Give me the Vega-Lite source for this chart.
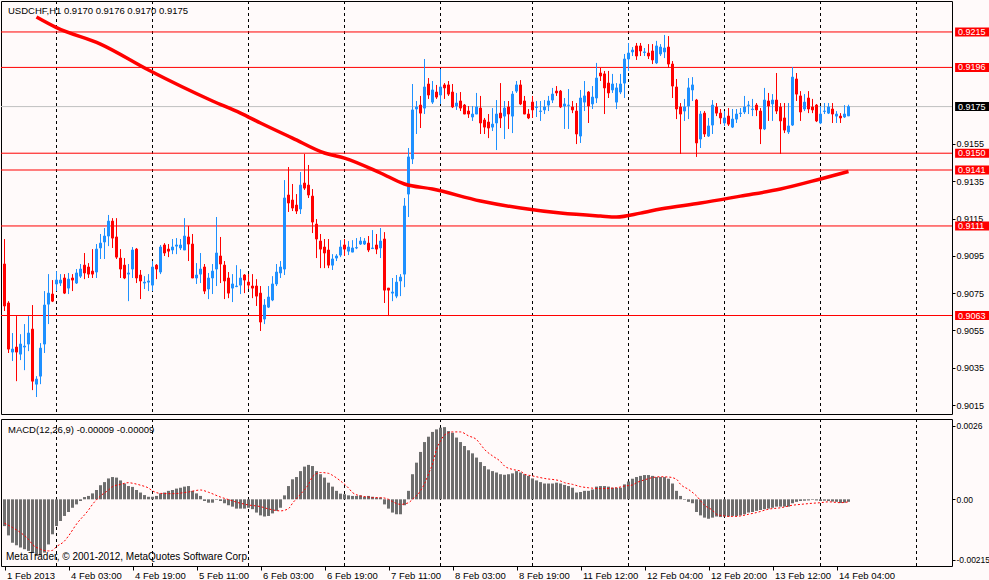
{
  "$schema": "https://vega.github.io/schema/vega-lite/v6.json",
  "background": "#FFFAFA",
  "padding": 0,
  "spacing": 3,
  "resolve": {"scale": {"x": "independent", "y": "independent"}},
  "config": {
    "view": {"stroke": "#000000", "strokeWidth": 1},
    "scale": {"continuousPadding": 0},
    "font": "Liberation Sans",
    "axis": {"labelFont": "Liberation Sans", "labelFontSize": 9.5, "labelColor": "#000000", "tickColor": "#000000", "domain": false, "grid": false}
  },
  "datasets": {
    "bars": [
      {"i":0,"o":0.90906,"h":0.9104,"l":0.90654,"c":0.90681,"m":-0.00095},
      {"i":1,"o":0.90697,"h":0.90707,"l":0.90429,"c":0.9045,"m":-0.00128},
      {"i":2,"o":0.90434,"h":0.90536,"l":0.90386,"c":0.9045,"m":-0.00154},
      {"i":3,"o":0.90461,"h":0.90627,"l":0.90278,"c":0.90434,"m":-0.00163},
      {"i":4,"o":0.90423,"h":0.9053,"l":0.90391,"c":0.90477,"m":-0.00171},
      {"i":5,"o":0.90461,"h":0.90584,"l":0.90337,"c":0.90466,"m":-0.00177},
      {"i":6,"o":0.90477,"h":0.90627,"l":0.90439,"c":0.90536,"m":-0.00183},
      {"i":7,"o":0.90557,"h":0.90686,"l":0.9023,"c":0.90278,"m":-0.00189},
      {"i":8,"o":0.90262,"h":0.90305,"l":0.90193,"c":0.90289,"m":-0.00201},
      {"i":9,"o":0.90305,"h":0.90482,"l":0.90262,"c":0.90455,"m":-0.00199},
      {"i":10,"o":0.90477,"h":0.90761,"l":0.90429,"c":0.90686,"m":-0.00189},
      {"i":11,"o":0.90691,"h":0.90852,"l":0.90584,"c":0.9075,"m":-0.0016},
      {"i":12,"o":0.90745,"h":0.9082,"l":0.90702,"c":0.90707,"m":-0.00124},
      {"i":13,"o":0.90799,"h":0.90868,"l":0.90761,"c":0.9082,"m":-0.00095},
      {"i":14,"o":0.90804,"h":0.90852,"l":0.90788,"c":0.9082,"m":-0.00077},
      {"i":15,"o":0.90831,"h":0.90852,"l":0.90745,"c":0.9075,"m":-0.00059},
      {"i":16,"o":0.90777,"h":0.90858,"l":0.90745,"c":0.90825,"m":-0.00045},
      {"i":17,"o":0.90831,"h":0.90852,"l":0.90761,"c":0.9082,"m":-0.0003},
      {"i":18,"o":0.90804,"h":0.90879,"l":0.90799,"c":0.90858,"m":-0.00018},
      {"i":19,"o":0.90841,"h":0.90906,"l":0.90831,"c":0.90879,"m":-0.00006},
      {"i":20,"o":0.909,"h":0.90965,"l":0.90825,"c":0.90858,"m":0.00008},
      {"i":21,"o":0.9089,"h":0.90911,"l":0.90831,"c":0.90852,"m":0.00012},
      {"i":22,"o":0.90868,"h":0.90986,"l":0.90831,"c":0.90852,"m":0.00021},
      {"i":23,"o":0.90863,"h":0.91013,"l":0.90831,"c":0.90986,"m":0.00033},
      {"i":24,"o":0.90992,"h":0.91067,"l":0.90933,"c":0.91018,"m":0.0005},
      {"i":25,"o":0.91024,"h":0.91099,"l":0.90933,"c":0.91056,"m":0.00061},
      {"i":26,"o":0.91056,"h":0.91169,"l":0.91002,"c":0.91136,"m":0.00074},
      {"i":27,"o":0.91136,"h":0.91152,"l":0.90992,"c":0.91045,"m":0.00079},
      {"i":28,"o":0.91051,"h":0.91152,"l":0.90933,"c":0.90943,"m":0.00077},
      {"i":29,"o":0.90938,"h":0.90986,"l":0.90831,"c":0.90879,"m":0.00067},
      {"i":30,"o":0.909,"h":0.90938,"l":0.90825,"c":0.90831,"m":0.00056},
      {"i":31,"o":0.90852,"h":0.90906,"l":0.90707,"c":0.90858,"m":0.00047},
      {"i":32,"o":0.90879,"h":0.90997,"l":0.90831,"c":0.90981,"m":0.00044},
      {"i":33,"o":0.90986,"h":0.90992,"l":0.90804,"c":0.90831,"m":0.00033},
      {"i":34,"o":0.90847,"h":0.90874,"l":0.90718,"c":0.90815,"m":0.00024},
      {"i":35,"o":0.90804,"h":0.90841,"l":0.90772,"c":0.90809,"m":0.00015},
      {"i":36,"o":0.90809,"h":0.90852,"l":0.90761,"c":0.90815,"m":0.00009},
      {"i":37,"o":0.90793,"h":0.90922,"l":0.90761,"c":0.9089,"m":0.00009},
      {"i":38,"o":0.909,"h":0.90906,"l":0.90825,"c":0.90879,"m":0.00012},
      {"i":39,"o":0.90863,"h":0.91008,"l":0.90852,"c":0.90997,"m":0.00021},
      {"i":40,"o":0.91008,"h":0.91018,"l":0.90949,"c":0.90965,"m":0.00024},
      {"i":41,"o":0.90986,"h":0.91013,"l":0.90943,"c":0.90975,"m":0.0003},
      {"i":42,"o":0.90981,"h":0.9104,"l":0.90959,"c":0.90997,"m":0.00033},
      {"i":43,"o":0.91002,"h":0.91045,"l":0.90959,"c":0.91008,"m":0.00038},
      {"i":44,"o":0.90992,"h":0.9104,"l":0.90981,"c":0.91008,"m":0.00041},
      {"i":45,"o":0.90981,"h":0.91152,"l":0.90981,"c":0.91056,"m":0.00045},
      {"i":46,"o":0.91051,"h":0.9111,"l":0.90922,"c":0.91013,"m":0.00047},
      {"i":47,"o":0.91013,"h":0.91067,"l":0.90831,"c":0.90831,"m":0.0003},
      {"i":48,"o":0.90831,"h":0.90911,"l":0.90799,"c":0.90847,"m":0.00021},
      {"i":49,"o":0.90852,"h":0.90965,"l":0.90804,"c":0.90879,"m":0.00012},
      {"i":50,"o":0.9089,"h":0.90906,"l":0.90745,"c":0.90761,"m":-0.00006},
      {"i":51,"o":0.90772,"h":0.90858,"l":0.90718,"c":0.90831,"m":-0.00012},
      {"i":52,"o":0.90831,"h":0.90906,"l":0.90745,"c":0.90868,"m":-0.00012},
      {"i":53,"o":0.90879,"h":0.91158,"l":0.90788,"c":0.90965,"m":-0.00002},
      {"i":54,"o":0.90949,"h":0.91051,"l":0.90804,"c":0.90906,"m":-0.00006},
      {"i":55,"o":0.909,"h":0.90922,"l":0.90718,"c":0.90815,"m":-0.00014},
      {"i":56,"o":0.90831,"h":0.90863,"l":0.90723,"c":0.9075,"m":-0.00021},
      {"i":57,"o":0.90777,"h":0.90852,"l":0.90702,"c":0.90799,"m":-0.00026},
      {"i":58,"o":0.90785,"h":0.909,"l":0.90782,"c":0.90788,"m":-0.00033},
      {"i":59,"o":0.90793,"h":0.90879,"l":0.90745,"c":0.90831,"m":-0.00033},
      {"i":60,"o":0.90847,"h":0.90852,"l":0.9075,"c":0.9082,"m":-0.00033},
      {"i":61,"o":0.90809,"h":0.90852,"l":0.90772,"c":0.90793,"m":-0.0003},
      {"i":62,"o":0.90788,"h":0.90852,"l":0.90723,"c":0.90777,"m":-0.00035},
      {"i":63,"o":0.90788,"h":0.90825,"l":0.90681,"c":0.90734,"m":-0.00047},
      {"i":64,"o":0.9075,"h":0.90788,"l":0.90547,"c":0.90595,"m":-0.00057},
      {"i":65,"o":0.90611,"h":0.90718,"l":0.90584,"c":0.90686,"m":-0.00061},
      {"i":66,"o":0.90675,"h":0.90788,"l":0.9067,"c":0.90729,"m":-0.00059},
      {"i":67,"o":0.90713,"h":0.90841,"l":0.90707,"c":0.90799,"m":-0.0005},
      {"i":68,"o":0.90799,"h":0.90906,"l":0.90788,"c":0.90863,"m":-0.00041},
      {"i":69,"o":0.90858,"h":0.90922,"l":0.90831,"c":0.9089,"m":-0.0003},
      {"i":70,"o":0.90879,"h":0.91356,"l":0.90847,"c":0.9126,"m":0.00014},
      {"i":71,"o":0.91276,"h":0.91426,"l":0.91185,"c":0.91233,"m":0.00047},
      {"i":72,"o":0.91249,"h":0.91335,"l":0.9119,"c":0.91206,"m":0.00071},
      {"i":73,"o":0.91222,"h":0.91281,"l":0.91174,"c":0.9119,"m":0.00079},
      {"i":74,"o":0.91201,"h":0.91399,"l":0.91174,"c":0.91329,"m":0.001},
      {"i":75,"o":0.9134,"h":0.91496,"l":0.91303,"c":0.91313,"m":0.00116},
      {"i":76,"o":0.91329,"h":0.91437,"l":0.9126,"c":0.91276,"m":0.00122},
      {"i":77,"o":0.9127,"h":0.91308,"l":0.91072,"c":0.91131,"m":0.00118},
      {"i":78,"o":0.9112,"h":0.91147,"l":0.90938,"c":0.9104,"m":0.001},
      {"i":79,"o":0.91029,"h":0.91067,"l":0.90884,"c":0.90986,"m":0.00089},
      {"i":80,"o":0.90997,"h":0.9104,"l":0.90884,"c":0.90965,"m":0.00077},
      {"i":81,"o":0.90981,"h":0.9104,"l":0.90884,"c":0.909,"m":0.00059},
      {"i":82,"o":0.909,"h":0.90959,"l":0.90874,"c":0.90933,"m":0.00045},
      {"i":83,"o":0.90938,"h":0.90959,"l":0.90922,"c":0.90949,"m":0.0003},
      {"i":84,"o":0.90954,"h":0.91034,"l":0.90943,"c":0.90997,"m":0.0002},
      {"i":85,"o":0.91008,"h":0.9104,"l":0.90949,"c":0.90986,"m":0.00018},
      {"i":86,"o":0.90975,"h":0.91029,"l":0.90954,"c":0.90997,"m":0.00014},
      {"i":87,"o":0.9097,"h":0.91034,"l":0.9097,"c":0.90992,"m":0.00012},
      {"i":88,"o":0.90992,"h":0.91045,"l":0.90986,"c":0.90994,"m":0.00012},
      {"i":89,"o":0.91013,"h":0.91051,"l":0.91008,"c":0.91029,"m":0.00014},
      {"i":90,"o":0.91013,"h":0.91045,"l":0.91008,"c":0.91029,"m":0.00009},
      {"i":91,"o":0.91018,"h":0.91056,"l":0.9097,"c":0.90981,"m":0.00012},
      {"i":92,"o":0.90989,"h":0.91088,"l":0.90986,"c":0.90992,"m":0.00009},
      {"i":93,"o":0.91008,"h":0.91067,"l":0.90959,"c":0.90986,"m":0.00006},
      {"i":94,"o":0.90992,"h":0.91099,"l":0.90938,"c":0.91029,"m":0.00006},
      {"i":95,"o":0.9104,"h":0.91077,"l":0.90697,"c":0.90766,"m":-0.00018},
      {"i":96,"o":0.90777,"h":0.90777,"l":0.90627,"c":0.90766,"m":-0.00033},
      {"i":97,"o":0.9075,"h":0.90831,"l":0.90707,"c":0.90756,"m":-0.00047},
      {"i":98,"o":0.90734,"h":0.90847,"l":0.90723,"c":0.90809,"m":-0.00053},
      {"i":99,"o":0.90815,"h":0.90852,"l":0.90734,"c":0.90836,"m":-0.00053},
      {"i":100,"o":0.90852,"h":0.9126,"l":0.90782,"c":0.91217,"m":-0.00021},
      {"i":101,"o":0.91281,"h":0.91528,"l":0.91158,"c":0.9148,"m":0.0003},
      {"i":102,"o":0.91469,"h":0.91871,"l":0.91442,"c":0.91732,"m":0.00089},
      {"i":103,"o":0.91737,"h":0.9178,"l":0.91603,"c":0.91748,"m":0.0013},
      {"i":104,"o":0.91758,"h":0.91807,"l":0.91635,"c":0.91715,"m":0.00168},
      {"i":105,"o":0.91742,"h":0.92005,"l":0.9171,"c":0.91855,"m":0.00203},
      {"i":106,"o":0.91871,"h":0.91903,"l":0.91791,"c":0.91812,"m":0.00222},
      {"i":107,"o":0.91774,"h":0.91887,"l":0.91764,"c":0.91839,"m":0.00239},
      {"i":108,"o":0.91828,"h":0.91866,"l":0.91791,"c":0.91801,"m":0.00248},
      {"i":109,"o":0.91812,"h":0.91951,"l":0.91764,"c":0.91855,"m":0.00254},
      {"i":110,"o":0.91866,"h":0.91876,"l":0.91791,"c":0.9185,"m":0.00256},
      {"i":111,"o":0.91866,"h":0.91887,"l":0.91807,"c":0.91817,"m":0.00242},
      {"i":112,"o":0.91828,"h":0.91871,"l":0.91742,"c":0.91748,"m":0.00236},
      {"i":113,"o":0.91753,"h":0.91823,"l":0.91732,"c":0.91769,"m":0.00219},
      {"i":114,"o":0.9178,"h":0.91828,"l":0.91726,"c":0.91742,"m":0.00203},
      {"i":115,"o":0.91758,"h":0.91764,"l":0.9171,"c":0.9171,"m":0.00189},
      {"i":116,"o":0.91726,"h":0.91753,"l":0.91689,"c":0.9171,"m":0.00174},
      {"i":117,"o":0.91694,"h":0.91753,"l":0.91673,"c":0.9171,"m":0.00163},
      {"i":118,"o":0.9171,"h":0.91823,"l":0.9171,"c":0.91748,"m":0.00148},
      {"i":119,"o":0.91742,"h":0.91807,"l":0.91603,"c":0.91662,"m":0.00132},
      {"i":120,"o":0.91678,"h":0.91689,"l":0.91603,"c":0.9164,"m":0.00118},
      {"i":121,"o":0.91667,"h":0.9171,"l":0.91581,"c":0.91635,"m":0.00106},
      {"i":122,"o":0.9164,"h":0.91742,"l":0.91619,"c":0.91656,"m":0.001},
      {"i":123,"o":0.91662,"h":0.91785,"l":0.91517,"c":0.9171,"m":0.00095},
      {"i":124,"o":0.91715,"h":0.91876,"l":0.91635,"c":0.91689,"m":0.00089},
      {"i":125,"o":0.91699,"h":0.9178,"l":0.91576,"c":0.91742,"m":0.00087},
      {"i":126,"o":0.91748,"h":0.9178,"l":0.9163,"c":0.9171,"m":0.00089},
      {"i":127,"o":0.91699,"h":0.91833,"l":0.91608,"c":0.91817,"m":0.00092},
      {"i":128,"o":0.91833,"h":0.91887,"l":0.91823,"c":0.91866,"m":0.001},
      {"i":129,"o":0.91866,"h":0.91892,"l":0.91758,"c":0.91764,"m":0.00095},
      {"i":130,"o":0.9178,"h":0.91807,"l":0.9171,"c":0.9171,"m":0.00089},
      {"i":131,"o":0.9171,"h":0.91737,"l":0.91683,"c":0.91689,"m":0.00083},
      {"i":132,"o":0.91774,"h":0.91807,"l":0.91689,"c":0.91732,"m":0.00074},
      {"i":133,"o":0.91745,"h":0.9178,"l":0.91694,"c":0.91748,"m":0.00067},
      {"i":134,"o":0.91724,"h":0.9178,"l":0.91673,"c":0.91726,"m":0.00061},
      {"i":135,"o":0.91732,"h":0.91785,"l":0.9171,"c":0.91748,"m":0.00056},
      {"i":136,"o":0.91758,"h":0.91807,"l":0.91726,"c":0.9178,"m":0.00056},
      {"i":137,"o":0.91785,"h":0.9185,"l":0.91769,"c":0.91817,"m":0.00056},
      {"i":138,"o":0.91833,"h":0.9186,"l":0.91807,"c":0.91823,"m":0.00059},
      {"i":139,"o":0.91833,"h":0.91839,"l":0.91742,"c":0.91748,"m":0.00056},
      {"i":140,"o":0.91753,"h":0.91796,"l":0.9163,"c":0.91764,"m":0.00051},
      {"i":141,"o":0.91756,"h":0.91844,"l":0.9163,"c":0.91758,"m":0.00047},
      {"i":142,"o":0.91748,"h":0.9178,"l":0.91715,"c":0.91732,"m":0.00041},
      {"i":143,"o":0.91726,"h":0.91769,"l":0.91549,"c":0.91603,"m":0.00024},
      {"i":144,"o":0.91592,"h":0.91839,"l":0.91555,"c":0.91796,"m":0.00026},
      {"i":145,"o":0.91774,"h":0.91887,"l":0.91726,"c":0.91807,"m":0.0003},
      {"i":146,"o":0.91828,"h":0.91833,"l":0.91662,"c":0.91753,"m":0.0003},
      {"i":147,"o":0.91764,"h":0.9186,"l":0.91737,"c":0.91801,"m":0.00035},
      {"i":148,"o":0.91796,"h":0.91984,"l":0.91769,"c":0.91903,"m":0.00045},
      {"i":149,"o":0.9193,"h":0.91957,"l":0.91887,"c":0.91914,"m":0.00047},
      {"i":150,"o":0.91925,"h":0.91941,"l":0.9171,"c":0.9185,"m":0.00047},
      {"i":151,"o":0.91876,"h":0.91941,"l":0.91796,"c":0.91823,"m":0.00045},
      {"i":152,"o":0.91839,"h":0.91925,"l":0.91823,"c":0.91871,"m":0.00041},
      {"i":153,"o":0.91774,"h":0.91876,"l":0.91737,"c":0.9185,"m":0.00041},
      {"i":154,"o":0.91828,"h":0.91925,"l":0.91817,"c":0.91871,"m":0.00041},
      {"i":155,"o":0.91876,"h":0.92032,"l":0.91796,"c":0.92005,"m":0.00053},
      {"i":156,"o":0.92005,"h":0.92091,"l":0.91941,"c":0.92037,"m":0.00063},
      {"i":157,"o":0.92043,"h":0.92069,"l":0.92021,"c":0.92053,"m":0.00073},
      {"i":158,"o":0.92075,"h":0.92091,"l":0.92,"c":0.92021,"m":0.00079},
      {"i":159,"o":0.92075,"h":0.92091,"l":0.92021,"c":0.92048,"m":0.00083},
      {"i":160,"o":0.9204,"h":0.92064,"l":0.92021,"c":0.92043,"m":0.00086},
      {"i":161,"o":0.92037,"h":0.92085,"l":0.92005,"c":0.92021,"m":0.00086},
      {"i":162,"o":0.92048,"h":0.92085,"l":0.91978,"c":0.92,"m":0.00083},
      {"i":163,"o":0.91984,"h":0.92102,"l":0.91978,"c":0.92075,"m":0.00079},
      {"i":164,"o":0.92032,"h":0.92085,"l":0.92021,"c":0.92069,"m":0.00079},
      {"i":165,"o":0.92043,"h":0.92134,"l":0.9201,"c":0.92064,"m":0.00079},
      {"i":166,"o":0.92069,"h":0.92128,"l":0.91957,"c":0.91978,"m":0.00073},
      {"i":167,"o":0.91978,"h":0.91994,"l":0.91796,"c":0.9186,"m":0.00056},
      {"i":168,"o":0.91855,"h":0.91898,"l":0.91683,"c":0.91737,"m":0.0003},
      {"i":169,"o":0.91748,"h":0.91769,"l":0.91496,"c":0.9171,"m":0.00012},
      {"i":170,"o":0.91726,"h":0.91791,"l":0.91673,"c":0.91748,"m":-0.00002},
      {"i":171,"o":0.91753,"h":0.91903,"l":0.91683,"c":0.9185,"m":-0.00009},
      {"i":172,"o":0.91839,"h":0.91908,"l":0.9178,"c":0.91866,"m":-0.00014},
      {"i":173,"o":0.91785,"h":0.91791,"l":0.9148,"c":0.91555,"m":-0.00045},
      {"i":174,"o":0.91576,"h":0.91726,"l":0.91528,"c":0.9171,"m":-0.00057},
      {"i":175,"o":0.91715,"h":0.91726,"l":0.91587,"c":0.91603,"m":-0.00065},
      {"i":176,"o":0.91592,"h":0.91689,"l":0.91587,"c":0.91646,"m":-0.00069},
      {"i":177,"o":0.91651,"h":0.91785,"l":0.91603,"c":0.91758,"m":-0.00065},
      {"i":178,"o":0.91748,"h":0.91769,"l":0.91699,"c":0.91715,"m":-0.00061},
      {"i":179,"o":0.91715,"h":0.91737,"l":0.91656,"c":0.91689,"m":-0.00063},
      {"i":180,"o":0.91662,"h":0.91726,"l":0.91646,"c":0.91689,"m":-0.00061},
      {"i":181,"o":0.91699,"h":0.91742,"l":0.91646,"c":0.91656,"m":-0.00061},
      {"i":182,"o":0.9164,"h":0.91737,"l":0.91635,"c":0.91683,"m":-0.00059},
      {"i":183,"o":0.91683,"h":0.91737,"l":0.91662,"c":0.9171,"m":-0.00059},
      {"i":184,"o":0.91713,"h":0.91742,"l":0.91694,"c":0.91715,"m":-0.00057},
      {"i":185,"o":0.91721,"h":0.91807,"l":0.9171,"c":0.91748,"m":-0.00053},
      {"i":186,"o":0.91756,"h":0.9178,"l":0.9171,"c":0.91758,"m":-0.00047},
      {"i":187,"o":0.91734,"h":0.91791,"l":0.91699,"c":0.91737,"m":-0.00045},
      {"i":188,"o":0.91758,"h":0.91769,"l":0.91699,"c":0.91732,"m":-0.00041},
      {"i":189,"o":0.91726,"h":0.91742,"l":0.91549,"c":0.9163,"m":-0.00038},
      {"i":190,"o":0.9163,"h":0.9185,"l":0.91624,"c":0.91785,"m":-0.00035},
      {"i":191,"o":0.9178,"h":0.91823,"l":0.91673,"c":0.91753,"m":-0.00033},
      {"i":192,"o":0.91764,"h":0.91817,"l":0.91673,"c":0.91785,"m":-0.0003},
      {"i":193,"o":0.91785,"h":0.9193,"l":0.9171,"c":0.91726,"m":-0.00026},
      {"i":194,"o":0.91748,"h":0.91769,"l":0.91496,"c":0.91673,"m":-0.00026},
      {"i":195,"o":0.91689,"h":0.91769,"l":0.91608,"c":0.91624,"m":-0.00026},
      {"i":196,"o":0.91614,"h":0.91769,"l":0.91603,"c":0.91646,"m":-0.00026},
      {"i":197,"o":0.91651,"h":0.91962,"l":0.91646,"c":0.91908,"m":-0.00014},
      {"i":198,"o":0.91898,"h":0.9193,"l":0.9178,"c":0.91817,"m":-0.00009},
      {"i":199,"o":0.91807,"h":0.91833,"l":0.91673,"c":0.91721,"m":-0.00006},
      {"i":200,"o":0.91737,"h":0.91817,"l":0.91726,"c":0.91774,"m":-0.00005},
      {"i":201,"o":0.91796,"h":0.91833,"l":0.91715,"c":0.91737,"m":-0.00004},
      {"i":202,"o":0.91748,"h":0.91791,"l":0.91715,"c":0.91732,"m":-0.00002},
      {"i":203,"o":0.91758,"h":0.91764,"l":0.91667,"c":0.91673,"m":-0.00004},
      {"i":204,"o":0.91662,"h":0.91753,"l":0.91656,"c":0.9171,"m":-0.00006},
      {"i":205,"o":0.91724,"h":0.91769,"l":0.9171,"c":0.91726,"m":-0.00005},
      {"i":206,"o":0.91715,"h":0.91769,"l":0.9171,"c":0.91748,"m":-0.00006},
      {"i":207,"o":0.91737,"h":0.91769,"l":0.91662,"c":0.9171,"m":-0.00008},
      {"i":208,"o":0.91699,"h":0.91726,"l":0.91662,"c":0.9171,"m":-0.00009},
      {"i":209,"o":0.91699,"h":0.91715,"l":0.91662,"c":0.91689,"m":-0.00013},
      {"i":210,"o":0.91694,"h":0.91758,"l":0.91689,"c":0.9171,"m":-0.00012},
      {"i":211,"o":0.917,"h":0.9176,"l":0.917,"c":0.9175,"m":-0.00009}
    ],
    "ma": [
      {"i":8,"v":0.9223},{"i":13,"v":0.92173},
      {"i":24,"v":0.92085},{"i":36,"v":0.91946},{"i":52,"v":0.9178},{"i":59,"v":0.91715},
      {"i":64,"v":0.91662},{"i":72,"v":0.91581},{"i":80,"v":0.91501},{"i":85,"v":0.91474},
      {"i":94,"v":0.91394},{"i":100,"v":0.91335},{"i":107,"v":0.91308},{"i":119,"v":0.91244},
      {"i":129,"v":0.91206},{"i":139,"v":0.91179},{"i":149,"v":0.91163},{"i":153,"v":0.91158},
      {"i":159,"v":0.91179},{"i":164,"v":0.91201},{"i":174,"v":0.91233},{"i":184,"v":0.9127},
      {"i":194,"v":0.91308},{"i":204,"v":0.91362},{"i":211,"v":0.91402}
    ],
    "signal": [
      {"i":0,"s":-0.00085},{"i":2,"s":-0.001},{"i":4,"s":-0.00118},{"i":6,"s":-0.00142},{"i":7,"s":-0.0016},
      {"i":9,"s":-0.00177},{"i":11,"s":-0.00183},{"i":12,"s":-0.00181},{"i":13,"s":-0.00168},{"i":15,"s":-0.00148},
      {"i":16,"s":-0.0013},{"i":18,"s":-0.00088},{"i":21,"s":-0.00038},{"i":22,"s":-0.00018},{"i":24,"s":0.00012},
      {"i":26,"s":0.00033},{"i":27,"s":0.00045},{"i":29,"s":0.00053},{"i":31,"s":0.00059},{"i":32,"s":0.00057},
      {"i":34,"s":0.0005},{"i":36,"s":0.0004},{"i":37,"s":0.0003},{"i":39,"s":0.00021},{"i":42,"s":0.0002},
      {"i":46,"s":0.00026},{"i":49,"s":0.00033},{"i":51,"s":0.00025},{"i":54,"s":0.00008},{"i":56,"s":-0.00001},
      {"i":59,"s":-0.00014},{"i":61,"s":-0.0002},{"i":64,"s":-0.00026},{"i":66,"s":-0.00034},{"i":69,"s":-0.00041},
      {"i":71,"s":-0.00033},{"i":72,"s":-0.00014},{"i":74,"s":0.00018},{"i":76,"s":0.00053},{"i":77,"s":0.0008},
      {"i":79,"s":0.00095},{"i":81,"s":0.00092},{"i":82,"s":0.00085},{"i":84,"s":0.00065},{"i":86,"s":0.0004},
      {"i":87,"s":0.00024},{"i":89,"s":0.00012},{"i":91,"s":0.00008},{"i":92,"s":0.00006},{"i":94,"s":0.00006},
      {"i":96,"s":0},{"i":97,"s":-0.00008},{"i":99,"s":-0.00018},{"i":101,"s":-0.00012},{"i":102,"s":0},
      {"i":104,"s":0.0003},{"i":105,"s":0.00055},{"i":106,"s":0.0009},{"i":107,"s":0.00125},{"i":108,"s":0.00177},
      {"i":109,"s":0.00207},{"i":110,"s":0.00228},{"i":112,"s":0.00239},{"i":114,"s":0.00239},{"i":116,"s":0.00225},
      {"i":118,"s":0.00212},{"i":119,"s":0.00195},{"i":120,"s":0.00177},{"i":122,"s":0.00154},{"i":124,"s":0.00134},
      {"i":125,"s":0.00118},{"i":127,"s":0.00106},{"i":129,"s":0.001},{"i":130,"s":0.00089},{"i":132,"s":0.00083},
      {"i":135,"s":0.00074},{"i":139,"s":0.00065},{"i":140,"s":0.00059},{"i":142,"s":0.00053},{"i":144,"s":0.00045},
      {"i":146,"s":0.00041},{"i":149,"s":0.00038},{"i":153,"s":0.00041},{"i":155,"s":0.00047},{"i":157,"s":0.00051},
      {"i":158,"s":0.00059},{"i":160,"s":0.00069},{"i":162,"s":0.00077},{"i":164,"s":0.0008},{"i":166,"s":0.00079},
      {"i":168,"s":0.00071},{"i":169,"s":0.00053},{"i":171,"s":0.00035},{"i":173,"s":0.00012},{"i":175,"s":-0.00021},
      {"i":177,"s":-0.00039},{"i":178,"s":-0.00053},{"i":180,"s":-0.00059},{"i":182,"s":-0.00061},{"i":184,"s":-0.00059},
      {"i":186,"s":-0.00053},{"i":188,"s":-0.00047},{"i":191,"s":-0.00035},{"i":194,"s":-0.0003},{"i":197,"s":-0.00021},
      {"i":199,"s":-0.00018},{"i":202,"s":-0.00014},{"i":204,"s":-0.00012},{"i":206,"s":-0.00009},{"i":209,"s":-0.00012},
      {"i":211,"s":-0.00009}
    ],
    "days": [
      {"i":13},{"i":37},{"i":61},{"i":85},{"i":109},{"i":132},{"i":156},{"i":180},{"i":204},{"i":228}
    ],
    "levels": [
      {"level":0.9215,"kind":"line"},
      {"level":0.9196,"kind":"line"},
      {"level":0.9175,"kind":"bid"},
      {"level":0.915,"kind":"line"},
      {"level":0.9141,"kind":"line"},
      {"level":0.9111,"kind":"line"},
      {"level":0.9063,"kind":"line"}
    ]
  },
  "vconcat": [
    {
      "width": 951,
      "height": 413,
      "layer": [
        {
          "data": {"name": "days"},
          "mark": {"type": "rule", "color": "#000000", "strokeDash": [3, 3], "strokeWidth": 1},
          "encoding": {
            "x": {"field": "i", "type": "quantitative", "scale": {"domain": [-0.875, 236.875], "nice": false, "zero": false, "padding": 0}, "axis": null, "title": null}
          }
        },
        {
          "data": {"name": "levels"},
          "mark": {"type": "rule", "strokeWidth": 1},
          "encoding": {
            "y": {
              "field": "level", "type": "quantitative", "title": null,
              "scale": {"domain": [0.90102, 0.92316], "nice": false, "zero": false, "padding": 0},
              "axis": {"orient": "right", "values": [0.9015, 0.9035, 0.9055, 0.9075, 0.9095, 0.9115, 0.9135, 0.9155], "format": ".4f", "tickSize": 3, "labelPadding": 1, "labelFontSize": 9, "title": null}
            },
            "color": {"condition": {"test": "datum.kind === 'bid'", "value": "#C0C0C0"}, "value": "#FF0000"}
          }
        },
        {
          "data": {"name": "bars"},
          "mark": {"type": "rule", "strokeWidth": 1},
          "encoding": {
            "x": {"field": "i", "type": "quantitative", "axis": null, "title": null},
            "y": {"field": "l", "type": "quantitative", "title": null},
            "y2": {"field": "h"},
            "color": {"condition": {"test": "datum.c >= datum.o", "value": "#1E90FF"}, "value": "#FF0000"}
          }
        },
        {
          "data": {"name": "bars"},
          "mark": {"type": "bar", "width": 2, "strokeWidth": 1},
          "encoding": {
            "x": {"field": "i", "type": "quantitative", "axis": null, "title": null},
            "y": {"field": "o", "type": "quantitative", "title": null},
            "y2": {"field": "c"},
            "fill": {"condition": {"test": "datum.c >= datum.o", "value": "#1E90FF"}, "value": "#FF0000"},
            "stroke": {"condition": {"test": "datum.c >= datum.o", "value": "#1E90FF"}, "value": "#FF0000"}
          }
        },
        {
          "data": {"name": "ma"},
          "mark": {"type": "line", "color": "#FF0000", "strokeWidth": 3.5, "interpolate": "monotone", "clip": true},
          "encoding": {
            "x": {"field": "i", "type": "quantitative", "axis": null, "title": null},
            "y": {"field": "v", "type": "quantitative", "title": null}
          }
        },
        {
          "data": {"name": "levels"},
          "mark": {"type": "tick", "orient": "horizontal", "size": 34, "thickness": 9, "opacity": 1, "clip": false},
          "encoding": {
            "x": {"datum": 241.9, "type": "quantitative", "axis": null, "title": null},
            "y": {"field": "level", "type": "quantitative", "title": null},
            "color": {"condition": {"test": "datum.kind === 'bid'", "value": "#000000"}, "value": "#FF0000"}
          }
        },
        {
          "data": {"name": "levels"},
          "mark": {"type": "text", "align": "left", "baseline": "middle", "font": "Liberation Sans", "fontSize": 9, "color": "#FFFFFF", "clip": false},
          "encoding": {
            "x": {"datum": 238.4, "type": "quantitative", "axis": null, "title": null},
            "y": {"field": "level", "type": "quantitative", "title": null},
            "text": {"field": "level", "type": "quantitative", "format": ".4f"}
          }
        },
        {
          "data": {"values": [{"label": "USDCHF,H1  0.9170 0.9176 0.9170 0.9175"}]},
          "mark": {"type": "text", "align": "left", "baseline": "middle", "dx": 7, "font": "Liberation Sans", "fontSize": 9.5, "color": "#000000"},
          "encoding": {
            "x": {"datum": -0.875, "type": "quantitative", "axis": null, "title": null},
            "y": {"datum": 0.9226, "type": "quantitative", "title": null},
            "text": {"field": "label", "type": "nominal"}
          }
        }
      ]
    },
    {
      "width": 951,
      "height": 147,
      "layer": [
        {
          "data": {"name": "days"},
          "mark": {"type": "rule", "color": "#000000", "strokeDash": [3, 3], "strokeWidth": 1},
          "encoding": {
            "x": {
              "field": "i", "type": "quantitative", "title": null,
              "scale": {"domain": [-0.875, 236.875], "nice": false, "zero": false, "padding": 0},
              "axis": {
                "orient": "bottom", "title": null,
                "values": [0, 16, 32, 48, 64, 80, 96, 112, 128, 144, 160, 176, 192, 208],
                "labelExpr": "['1 Feb 2013','4 Feb 03:00','4 Feb 19:00','5 Feb 11:00','6 Feb 03:00','6 Feb 19:00','7 Feb 11:00','8 Feb 03:00','8 Feb 19:00','11 Feb 12:00','12 Feb 04:00','12 Feb 20:00','13 Feb 12:00','14 Feb 04:00'][round(datum.value / 16)]",
                "labelAlign": "left", "labelOffset": 2, "labelFlush": false, "labelOverlap": false,
                "labelBaseline": "top", "labelPadding": 0, "tickSize": 4
              }
            }
          }
        },
        {
          "data": {"name": "bars"},
          "mark": {"type": "bar", "width": 3, "color": "#6E6E6E"},
          "encoding": {
            "x": {"field": "i", "type": "quantitative", "title": null},
            "y": {
              "field": "m", "type": "quantitative", "title": null,
              "scale": {"domain": [-0.002365, 0.002848], "nice": false, "zero": false, "padding": 0},
              "axis": {
                "orient": "right", "title": null,
                "values": [-0.00215, 0, 0.0026],
                "labelExpr": "datum.value > 0.001 ? '0.0026' : (datum.value < -0.001 ? '-0.00215' : '0.00')",
                "tickSize": 3, "labelPadding": 1, "labelFontSize": 8.5
              }
            },
            "y2": {"datum": 0}
          }
        },
        {
          "data": {"name": "signal"},
          "mark": {"type": "line", "color": "#FF0000", "strokeWidth": 1, "strokeDash": [2, 2], "interpolate": "monotone"},
          "encoding": {
            "x": {"field": "i", "type": "quantitative", "title": null},
            "y": {"field": "s", "type": "quantitative", "title": null}
          }
        },
        {
          "data": {"values": [{"label": "MACD(12,26,9) -0.00009 -0.00009"}]},
          "mark": {"type": "text", "align": "left", "baseline": "middle", "dx": 7, "font": "Liberation Sans", "fontSize": 9.5, "color": "#000000"},
          "encoding": {
            "x": {"datum": -0.875, "type": "quantitative", "title": null},
            "y": {"datum": 0.00246, "type": "quantitative", "title": null},
            "text": {"field": "label", "type": "nominal"}
          }
        },
        {
          "data": {"values": [{"label": "MetaTrader, © 2001-2012, MetaQuotes Software Corp."}]},
          "mark": {"type": "text", "align": "left", "baseline": "middle", "dx": 5, "font": "Liberation Sans", "fontSize": 10, "color": "#000000"},
          "encoding": {
            "x": {"datum": -0.875, "type": "quantitative", "title": null},
            "y": {"datum": -0.00203, "type": "quantitative", "title": null},
            "text": {"field": "label", "type": "nominal"}
          }
        }
      ]
    }
  ]
}
